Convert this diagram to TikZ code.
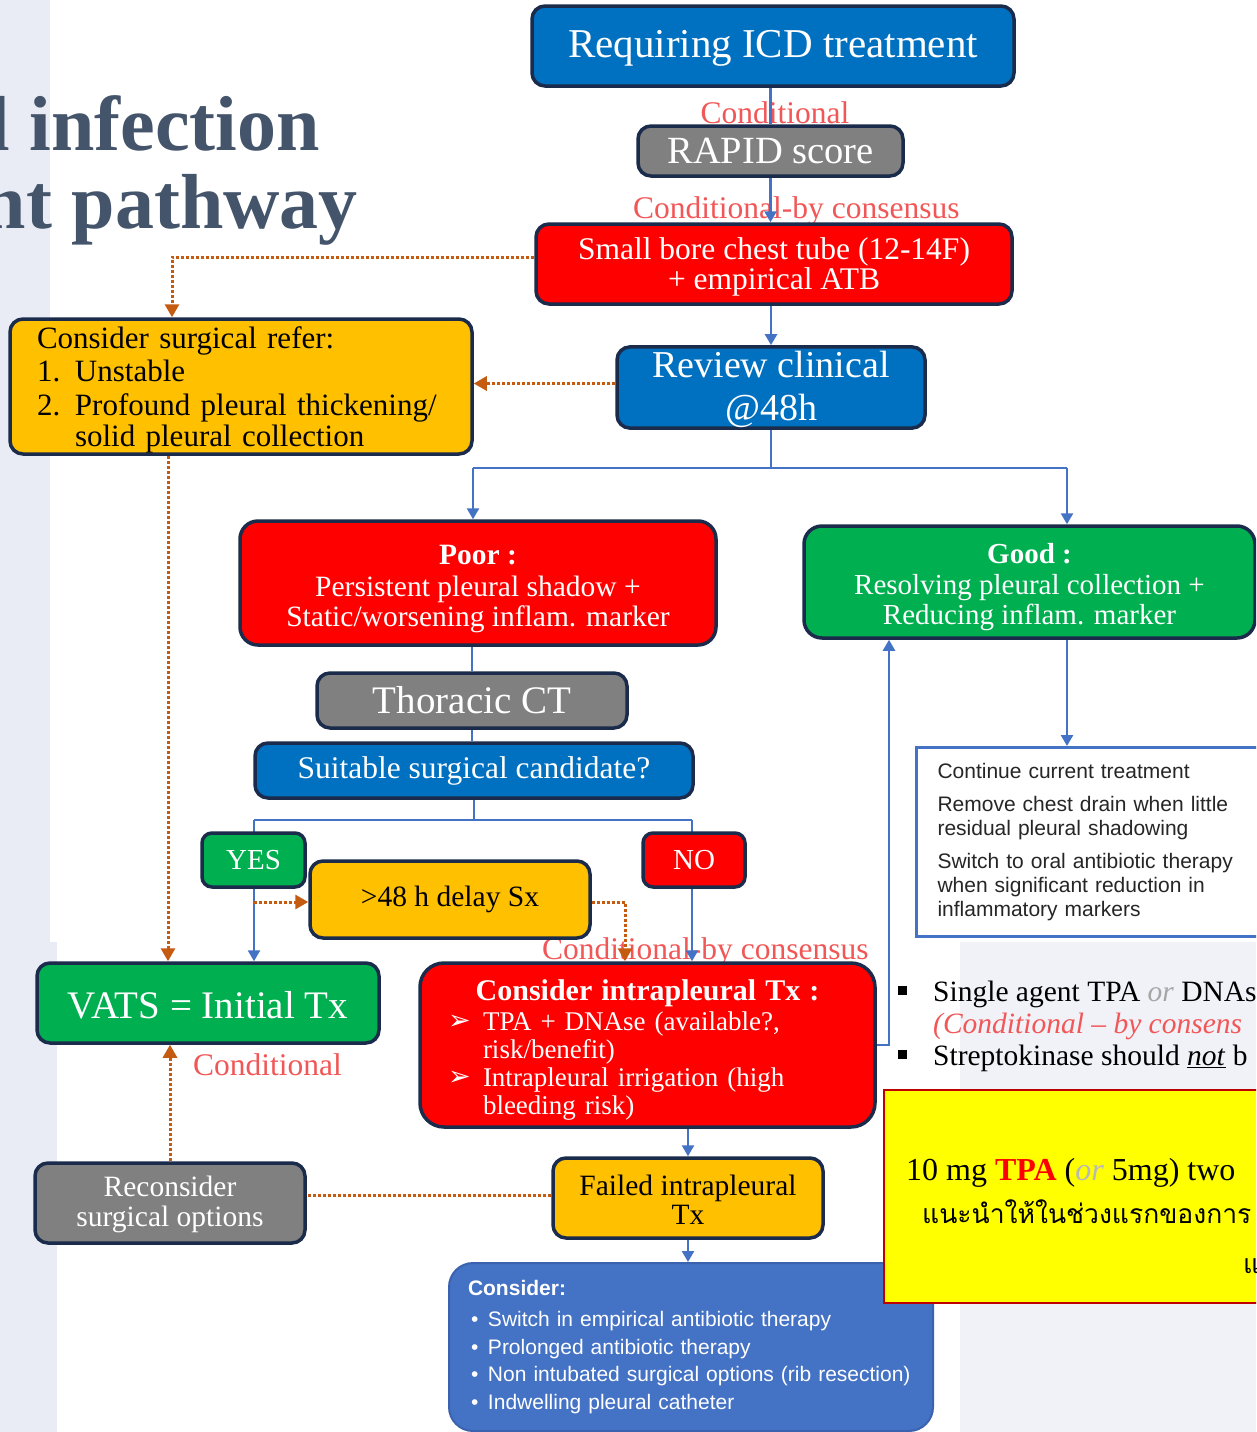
\documentclass[tikz,border=0pt]{standalone}
\usepackage{fontspec}
\setmainfont{Liberation Serif}
\setsansfont{Liberation Sans}
\newfontfamily\dejavu{DejaVu Sans}
\newfontfamily\thaifont[Script=Thai]{Loma}
\usetikzlibrary{arrows.meta}

\definecolor{navy}{HTML}{1B2B4B}
\definecolor{boxblue}{HTML}{0070C0}
\definecolor{boxred}{HTML}{FF0000}
\definecolor{boxgreen}{HTML}{00B050}
\definecolor{boxamber}{HTML}{FFC000}
\definecolor{boxgrey}{HTML}{808080}
\definecolor{linkblue}{HTML}{4472C4}
\definecolor{dotorange}{HTML}{C55A11}
\definecolor{labelred}{HTML}{F25757}
\definecolor{titleslate}{HTML}{44546A}
\definecolor{softgrey}{HTML}{A6A6A6}
\definecolor{paleback}{HTML}{E9ECF5}
\definecolor{notered}{HTML}{C00000}
\definecolor{noteyellow}{HTML}{FFFF00}
\definecolor{consblue}{HTML}{4472C4}
\definecolor{consedge}{HTML}{3A62AE}

\newcommand{\fsz}[2]{\fontsize{#1}{#2}\selectfont}

\pgfdeclarelayer{under}
\pgfdeclarelayer{links}
\pgfsetlayers{under,links,main}

\begin{document}
\begin{tikzpicture}[x=1pt,y=-1pt,
  box/.style={draw=navy, line width=3.5pt, rounded corners=13pt, inner sep=0pt,
              align=center, text=white},
  lab/.style={text=labelred, inner sep=0pt, font=\fsz{31.5}{34}},
  link/.style={draw=linkblue, line width=2.5pt},
  linkarrow/.style={link, -{Triangle[length=11pt,width=12pt]}},
  dotlink/.style={draw=dotorange, line width=3pt, dash pattern=on 3pt off 2pt},
  dotarrow/.style={dotlink, -{Triangle[length=13pt,width=14pt]}},
  sqbullet/.style={fill=black, minimum size=9pt, inner sep=0pt, anchor=south west}]

\useasboundingbox (0,0) rectangle (1256,1432);
\clip (0,0) rectangle (1256,1432);

% pale backdrop panels and the heading fragment
\begin{pgfonlayer}{under}
  \fill[white] (0,0) rectangle (1256,1432);
  \fill[paleback] (0,0) rectangle (50,942);
  \fill[paleback] (0,942) rectangle (57,1432);
  \fill[paleback!70] (960,942) rectangle (1256,1432);
  \node[anchor=base east, text=titleslate, inner sep=0pt,
        font=\fsz{78}{80}\bfseries] (title1) at (320,150) {l infection};
  \node[anchor=base east, text=titleslate, inner sep=0pt,
        font=\fsz{78}{80}\bfseries] (title2) at (358,228) {nt pathway};
  % evidence labels
  \node[lab, anchor=base] (lab1) at (775,123) {Conditional};
  \node[lab, anchor=base west] (lab2) at (633,218) {Conditional-by consensus};
  \node[lab, anchor=base west] (lab3) at (542,959) {Conditional-by consensus};
  \node[lab, anchor=base west] (lab4) at (193,1075) {Conditional};
\end{pgfonlayer}

% ---------- boxes ----------
\node[box, fill=boxblue, minimum width=482pt, minimum height=80pt,
      font=\fsz{41}{45}] (icd) at (773,46) {\rule{0pt}{32pt}Requiring ICD treatment};
\node[box, fill=boxgrey, minimum width=265pt, minimum height=50pt,
      font=\fsz{38.5}{42}] (rapid) at (770.5,151) {RAPID score};
\node[box, fill=boxred, minimum width=476pt, minimum height=80pt,
      font=\fsz{31.5}{30}] (tube) at (774,264)
      {\rule{0pt}{27pt}Small bore chest tube (12-14F)\\+ empirical ATB};
\node[box, fill=boxblue, minimum width=308pt, minimum height=79pt,
      font=\fsz{38}{43}] (review) at (771,387.5) {\rule{0pt}{31pt}Review clinical\\@48h};

\node[box, fill=boxamber, text=black, minimum width=462pt, minimum height=135pt,
      text width=408pt, inner xsep=27pt, align=left,
      font=\fsz{31}{33}] (refer) at (241,386.5)
      {\rule{0pt}{28pt}Consider surgical refer:\\
       \makebox[38pt][l]{1.}Unstable\\[1pt]
       \makebox[38pt][l]{2.}Profound pleural thickening/\\[-2pt]
       \hspace*{38pt}solid pleural collection};

\node[box, fill=boxred, rounded corners=18pt, minimum width=476pt, minimum height=124pt,
      font=\fsz{29.5}{30}] (poor) at (478,583)
      {\rule{0pt}{31pt}{\bfseries Poor :}\\[2pt]Persistent pleural shadow +\\Static/worsening inflam. marker};
\node[box, fill=boxgreen, rounded corners=18pt, minimum width=451pt, minimum height=112pt,
      font=\fsz{29}{30.5}] (good) at (1029.5,582)
      {\rule{0pt}{31pt}{\bfseries Good :}\\Resolving pleural collection +\\Reducing inflam. marker};

\node[draw=linkblue, line width=3pt, fill=white, anchor=north west,
      minimum width=372pt, minimum height=189pt, text width=330pt,
      inner xsep=21pt, inner ysep=0pt, align=left, text=black!85,
      font=\sffamily\fsz{21}{24}] (cont) at (915,746)
      {Continue current treatment\\[9pt]
       Remove chest drain when little\\residual pleural shadowing\\[9pt]
       Switch to oral antibiotic therapy\\when significant reduction in\\inflammatory markers};

\node[box, fill=boxgrey, minimum width=310pt, minimum height=55pt,
      font=\fsz{39}{42}] (thoracic) at (472,700.5) {Thoracic CT};
\node[box, fill=boxblue, minimum width=438pt, minimum height=55pt,
      font=\fsz{31.5}{34}] (suit) at (474,770.5) {Suitable surgical candidate?};

\node[box, fill=boxgreen, rounded corners=10pt, minimum width=103pt, minimum height=54pt,
      font=\fsz{29}{30}] (yes) at (253.5,860) {YES};
\node[box, fill=boxred, rounded corners=10pt, minimum width=102pt, minimum height=54pt,
      font=\fsz{29}{30}] (no) at (694,860) {NO};
\node[box, fill=boxamber, text=black, minimum width=280pt, minimum height=77pt,
      font=\fsz{29.5}{30}] (delay) at (450,899.5) {>48 h delay Sx};

\node[box, fill=boxgreen, minimum width=342pt, minimum height=80pt,
      font=\fsz{39}{42}] (vats) at (208,1003) {\rule{0pt}{31pt}VATS = Initial Tx};

\node[box, fill=boxred, rounded corners=24pt, minimum width=455pt, minimum height=164pt,
      text width=399pt, inner xsep=28pt, align=left,
      font=\fsz{27}{28}] (intra) at (647.5,1045)
      {\makebox[\linewidth][c]{\fsz{30}{30}\bfseries\rule{0pt}{30pt}Consider intrapleural Tx :}\\[2pt]
       \makebox[35pt][l]{\dejavu\fsz{27}{28}\raisebox{1pt}{➢}}TPA + DNAse (available?,\\
       \hspace*{35pt}risk/benefit)\\
       \makebox[35pt][l]{\dejavu\fsz{27}{28}\raisebox{1pt}{➢}}Intrapleural irrigation (high\\
       \hspace*{35pt}bleeding risk)};

\node[box, fill=boxamber, text=black, minimum width=270pt, minimum height=80pt,
      font=\fsz{29.5}{29}] (failed) at (688,1198) {\rule{0pt}{24pt}Failed intrapleural\\Tx};
\node[box, fill=boxgrey, minimum width=270pt, minimum height=80pt,
      font=\fsz{29.5}{30}] (recon) at (170,1203) {\rule{0pt}{24pt}Reconsider\\surgical options};

\node[draw=consedge, line width=2pt, fill=consblue, rounded corners=24pt,
      anchor=north west, minimum width=484pt, minimum height=168pt,
      text width=446pt, inner xsep=19pt, inner ysep=0pt, align=left,
      text=white, font=\sffamily\fsz{21}{27.5}] (cons) at (448,1262)
      {{\bfseries Consider:}\\[4pt]
       \hspace*{3pt}\makebox[17pt][l]{•}Switch in empirical antibiotic therapy\\
       \hspace*{3pt}\makebox[17pt][l]{•}Prolonged antibiotic therapy\\
       \hspace*{3pt}\makebox[17pt][l]{•}Non intubated surgical options (rib resection)\\
       \hspace*{3pt}\makebox[17pt][l]{•}Indwelling pleural catheter};

% ---------- side notes ----------
\node[sqbullet] (sq1) at (898,995) {};
\node[anchor=base west, inner sep=0pt, font=\fsz{29.5}{32}] (note1) at (933,1001)
      {Single agent TPA \textcolor{softgrey}{\textit{or}} DNAs};
\node[anchor=base west, inner sep=0pt, text=labelred, font=\fsz{29.5}{32}\itshape] (note2) at (933,1033)
      {(Conditional – by consens};
\node[sqbullet] (sq2) at (898,1059) {};
\node[anchor=base west, inner sep=0pt, font=\fsz{29.5}{32}] (note3) at (933,1065)
      {Streptokinase should \underline{\textit{not}} b};

\node[draw=notered, line width=1.5pt, fill=noteyellow, anchor=north west,
      minimum width=400pt, minimum height=213pt, inner sep=0pt] (tpa) at (883,1089) {};
\node[anchor=base west, inner sep=0pt, font=\fsz{32}{34}] (tpa1) at (906,1180)
      {10 mg \textcolor{boxred}{\bfseries TPA} (\textcolor{softgrey!80}{\textit{or}} 5mg) two};
\node[anchor=base west, inner sep=0pt, font=\thaifont\fsz{26.5}{34}] (tpa2) at (922,1223)
      {แนะนำให้ในช่วงแรกของการ};
\node[anchor=base west, inner sep=0pt, font=\thaifont\fsz{26.5}{34}] (tpa3) at (1243,1273)
      {แ};

% ---------- connectors ----------
\coordinate (pL) at (473,468);
\coordinate (pR) at (1067,468);
\coordinate (sL) at (254,820);
\coordinate (sR) at (692,820);
\coordinate (yd) at (254,902);

\begin{pgfonlayer}{links}
  \draw[link] (rapid.north |- icd.south) -- (rapid.north);
  \draw[linkarrow] (rapid.south) -- (rapid.south |- tube.north);
  \draw[linkarrow] (review.north |- tube.south) -- (review.north);
  \draw[link] (review.south) -- (review.south |- pL);
  \draw[link] (pL) -- (pR);
  \draw[linkarrow] (pL) -- (pL |- poor.north);
  \draw[linkarrow] (pR) -- (pR |- good.north);
  \draw[linkarrow] (pR |- good.south) -- (pR |- cont.north);
  \draw[link] (thoracic.north |- poor.south) -- (thoracic.north);
  \draw[link] (thoracic.south) -- (thoracic.south |- suit.north);
  \draw[link] (suit.south) -- (suit.south |- sL);
  \draw[link] (sL) -- (sR);
  \draw[linkarrow] (sL) -- (sL |- vats.north);
  \draw[linkarrow] (sR) -- (sR |- intra.north);
  \draw[linkarrow] (intra.east) -| ([xshift=-140.5pt]good.south);
  \draw[linkarrow] (failed.north |- intra.south) -- (failed.north);
  \draw[linkarrow] (failed.south) -- (failed.south |- cons.north);

  \draw[dotarrow] ([yshift=7pt]tube.west) -| ([xshift=-69pt]refer.north);
  \draw[dotarrow] ([yshift=4pt]review.west) -- ([yshift=4pt]review.west -| refer.east);
  \draw[dotarrow] ([xshift=-73pt]refer.south) -- ([xshift=-73pt]refer.south |- vats.north);
  \draw[dotarrow] (recon.north) -- (recon.north |- vats.south);
  \draw[dotarrow] (yd) -- (yd -| delay.west);
  \draw[dotarrow] (delay.east |- yd) -| ([xshift=-22.5pt]intra.north);
  \draw[dotlink] ([yshift=3pt]failed.west) -- ([yshift=3pt]failed.west -| recon.east);
\end{pgfonlayer}

\end{tikzpicture}
\end{document}
